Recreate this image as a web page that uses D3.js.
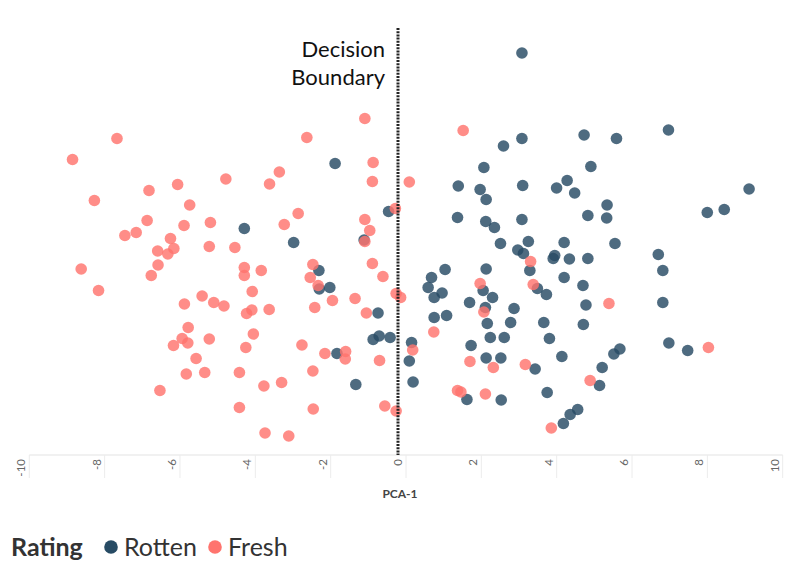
<!DOCTYPE html>
<html>
<head>
<meta charset="utf-8">
<script src="https://cdn.jsdelivr.net/npm/d3@7"></script>
<style>
  body { margin: 0; background: #fff; }
  svg { display: block; font-family: Lato, "Open Sans", sans-serif; }
</style>
</head>
<body>
<svg id="chart" width="796" height="575"></svg>
<script>
// PCA-1 / PCA-2 coordinates
const freshX = [-7.46, -8.64, -8.06, -6.61, -5.85, -4.57, -3.41, -5.53, -6.66, -7.25,
  -6.95, -5.68, -4.98, -6.04, -6.38, -6.11, -5.95, -5.01, -4.33, -8.41,
  -6.37, -6.55, -4.08, -4.08, -3.63, -7.95, -5.67, -5.20, -4.89, -4.62,
  -3.87, -3.88, -4.02, -3.42, -5.57, -5.73, -5.96, -5.58, -5.01, -3.84,
  -4.04, -5.36, -5.62, -5.13, -4.21, -3.56, -6.32, -4.21, -3.53, -0.88,
  -2.42, 1.73, -0.66, -3.15, -0.68, 0.30, -0.07, -2.65, -3.02, -0.88,
  -0.75, -0.88, 3.52, -2.26, -2.33, -0.68, -0.40, 2.18, -2.12, -1.74,
  -1.14, -2.21, -0.84, -0.05, 0.07, 2.28, 0.95, 1.91, 2.53, 3.38,
  0.39, -2.55, -1.94, -1.39, -1.40, -0.49, -2.26, -3.09, -2.25, -0.35,
  -0.05, 1.58, 1.67, 2.32, -2.90, 5.60, 8.24, 3.59, 5.10, 4.07];
const freshY = [2.03, 1.61, 0.79, 0.99, 1.11, 1.22, 1.12, 0.70, 0.39, 0.09,
  0.15, 0.29, 0.35, 0.03, -0.22, -0.28, -0.17, -0.13, -0.15, -0.58,
  -0.50, -0.71, -0.55, -0.71, -0.61, -1.01, -1.28, -1.12, -1.25, -1.32,
  -1.03, -1.40, -1.47, -1.39, -1.75, -1.97, -2.11, -2.06, -1.98, -1.88,
  -2.15, -2.37, -2.68, -2.65, -2.65, -2.92, -3.01, -3.35, -3.86, 2.43,
  2.05, 2.19, 1.55, 1.36, 1.17, 1.16, 0.63, 0.53, 0.31, 0.41,
  0.19, -0.03, -0.43, -0.49, -0.75, -0.47, -0.73, -0.87, -0.91, -1.21,
  -1.17, -1.35, -1.46, -1.07, -1.15, -1.44, -1.84, -2.43, -2.55, -2.49,
  -2.20, -2.10, -2.27, -2.23, -2.38, -2.41, -2.62, -2.85, -3.38, -3.32,
  -3.42, -3.01, -3.04, -3.08, -3.92, -1.27, -2.15, -0.89, -2.81, -3.76];

const rottenX = [3.29, 3.29, 2.80, -1.67, 2.28, 1.60, 2.18, 2.34, 3.31, -0.25,
  -0.90, -2.77, 1.58, 2.33, 2.56, 2.72, 3.29, 3.46, 3.18, 3.33,
  -2.10, 0.89, 1.25, 2.34, 3.50, -4.08, -2.09, -1.81, -0.53, 0.80,
  0.96, 1.17, 2.26, 2.51, 1.90, 2.32, 3.08, 0.96, 1.29, 2.37,
  2.99, 2.45, 2.82, 1.94, 2.34, 2.73, -0.66, -0.50, -0.21, 0.36,
  0.30, 0.40, -1.62, -1.12, 1.83, 2.74, 7.18, 4.94, 5.80, 5.12,
  4.49, 4.21, 4.69, 9.32, 5.55, 5.04, 5.54, 8.21, 8.66, 4.41,
  5.76, 4.16, 4.12, 4.55, 5.04, 6.91, 7.03, 4.41, 3.70, 3.94,
  4.91, 4.99, 7.03, 3.87, 4.92, 4.02, 4.35, 7.19, 7.69, 5.73,
  5.89, 3.64, 5.42, 5.35, 3.96, 4.77, 4.57, 4.39];
const rottenY = [3.74, 2.03, 1.88, 1.53, 1.45, 1.08, 1.01, 0.81, 1.09, 0.57,
  0.00, -0.05, 0.45, 0.37, 0.25, -0.07, 0.41, -0.03, -0.20, -0.27,
  -0.61, -0.75, -0.59, -0.58, -0.61, 0.23, -0.98, -0.95, -1.46, -0.95,
  -1.15, -1.06, -1.01, -1.15, -1.25, -1.35, -1.37, -1.55, -1.51, -1.67,
  -1.65, -1.95, -1.95, -2.11, -2.36, -2.36, -1.99, -1.92, -1.95, -2.05,
  -2.42, -2.84, -2.27, -2.89, -3.19, -3.20, 2.20, 2.10, 2.03, 1.47,
  1.19, 1.04, 0.94, 1.02, 0.70, 0.49, 0.44, 0.55, 0.61, -0.05,
  -0.07, -0.31, -0.37, -0.38, -0.37, -0.29, -0.61, -0.75, -0.97, -1.09,
  -0.91, -1.30, -1.25, -1.65, -1.69, -1.97, -2.33, -2.06, -2.21, -2.28,
  -2.18, -2.58, -2.55, -2.91, -3.05, -3.39, -3.49, -3.67];

const xTicks = [-10, -8, -6, -4, -2, 0, 2, 4, 6, 8, 10];
const ratings = ['Rotten', 'Fresh'];
const boundary = 0;

const colors = { Rotten: '#274b64', Fresh: '#ff746e' };

const points = [];
rottenX.forEach((x, i) => points.push({ x, y: rottenY[i], rating: 'Rotten' }));
freshX.forEach((x, i) => points.push({ x, y: freshY[i], rating: 'Fresh' }));

const svg = d3.select('#chart');

// Scales
const x = d3.scaleLinear().domain([-10, 10]).range([21.3, 774.7]);
const y = d3.scaleLinear().domain([-4.3, 4.3]).range([455, 25]);
const axisY = 455;
const tickShift = 8; // tableau draws tick marks just right of the rotated labels

// Axis base line
svg.append('line')
    .attr('x1', x(-10) + tickShift)
    .attr('x2', x(10) + tickShift)
    .attr('y1', axisY)
    .attr('y2', axisY)
    .attr('stroke', '#e3e3e3')
    .attr('stroke-width', 1);

// Tick marks
svg.selectAll('.tick-mark')
    .data(xTicks)
    .join('line')
    .attr('class', 'tick-mark')
    .attr('x1', d => x(d) + tickShift)
    .attr('x2', d => x(d) + tickShift)
    .attr('y1', axisY)
    .attr('y2', axisY + 23)
    .attr('stroke', '#ececec')
    .attr('stroke-width', 1);

// Rotated tick labels
svg.selectAll('.tick-label')
    .data(xTicks)
    .join('text')
    .attr('class', 'tick-label')
    .attr('transform', d => `translate(${x(d)},${axisY + 4}) rotate(-90)`)
    .attr('text-anchor', 'end')
    .attr('dy', '0.35em')
    .attr('font-size', 11.5)
    .attr('fill', '#666')
    .text(d => d);

// Axis title
svg.append('text')
    .attr('x', x(0) + 2)
    .attr('y', 498)
    .attr('text-anchor', 'middle')
    .attr('font-size', 12)
    .attr('font-weight', 'bold')
    .attr('fill', '#444')
    .text('PCA-1');

// Points
svg.append('g')
    .selectAll('circle')
    .data(points)
    .join('circle')
    .attr('cx', d => x(d.x))
    .attr('cy', d => y(d.y))
    .attr('r', 5.8)
    .attr('fill', d => colors[d.rating])
    .attr('fill-opacity', 0.82);

// Decision boundary
svg.append('line')
    .attr('x1', x(boundary))
    .attr('x2', x(boundary))
    .attr('y1', 28)
    .attr('y2', axisY)
    .attr('stroke', '#222')
    .attr('stroke-width', 3)
    .attr('stroke-dasharray', '2,1.2');

const label = svg.append('text')
    .attr('text-anchor', 'end')
    .attr('font-size', 22)
    .attr('fill', '#111');
label.append('tspan').attr('x', x(boundary) - 13).attr('y', 57).text('Decision');
label.append('tspan').attr('x', x(boundary) - 13).attr('y', 85).text('Boundary');

// Legend
const legend = svg.append('g').attr('font-size', 25).attr('fill', '#333');
legend.append('text')
    .attr('x', 11)
    .attr('y', 556)
    .attr('font-weight', 'bold')
    .text('Rating');

const legendX = [111, 215];
ratings.forEach((r, i) => {
    legend.append('circle')
        .attr('cx', legendX[i])
        .attr('cy', 547)
        .attr('r', 6.8)
        .attr('fill', colors[r]);
    legend.append('text')
        .attr('x', legendX[i] + 13)
        .attr('y', 556)
        .text(r);
});
</script>
</body>
</html>
